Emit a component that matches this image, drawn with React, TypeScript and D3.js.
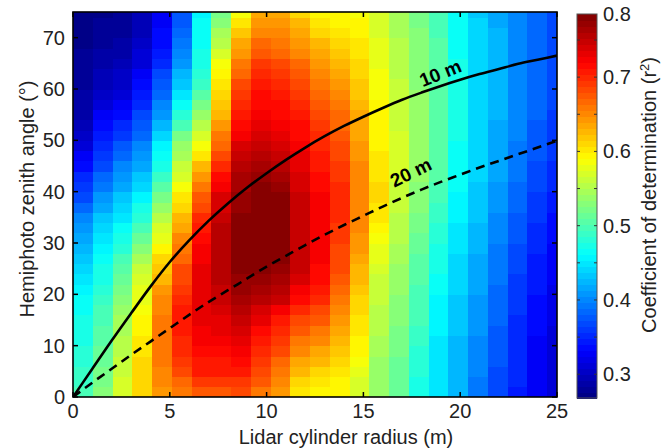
import React from "react";
import * as d3 from "d3";

// ---- Data ----
// r² per radius column (0..24), each listing angle rows of 2° from 0° to 75° (row centres 1,3,...,75)
const r2Columns: number[][] = [
  [.498,.494,.49,.486,.482,.478,.474,.47,.466,.462,.457,.451,.445,.437,.429,.42,.41,.40,.386,.372,.36,.35,.34,.328,.316,.306,.298,.29,.288,.286,.284,.282,.28,.278,.276,.274,.272,.27],
  [.528,.524,.52,.516,.512,.508,.504,.50,.496,.492,.486,.478,.47,.462,.454,.446,.438,.43,.418,.406,.394,.382,.37,.362,.354,.345,.335,.325,.315,.305,.298,.294,.29,.286,.282,.279,.277,.275],
  [.569,.567,.565,.561,.557,.553,.549,.545,.539,.533,.526,.518,.51,.498,.486,.474,.462,.45,.44,.43,.42,.41,.40,.388,.376,.364,.352,.34,.328,.316,.307,.301,.295,.291,.287,.284,.282,.28],
  [.61,.61,.61,.608,.606,.603,.599,.595,.589,.583,.576,.568,.56,.546,.532,.517,.501,.485,.471,.457,.444,.432,.42,.41,.40,.389,.377,.365,.355,.345,.335,.325,.315,.309,.303,.299,.297,.295],
  [.643,.649,.655,.657,.659,.66,.66,.66,.654,.648,.64,.63,.62,.608,.596,.583,.569,.555,.539,.523,.507,.491,.475,.465,.455,.442,.426,.41,.398,.386,.375,.365,.355,.347,.339,.334,.332,.33],
  [.657,.671,.685,.691,.697,.702,.706,.71,.706,.702,.696,.688,.68,.67,.66,.649,.637,.625,.613,.601,.588,.574,.56,.548,.536,.52,.50,.48,.464,.448,.434,.422,.41,.402,.394,.387,.381,.375],
  [.673,.689,.705,.711,.717,.722,.726,.73,.732,.734,.734,.732,.73,.726,.722,.716,.708,.70,.688,.676,.661,.643,.625,.605,.585,.567,.551,.535,.519,.503,.491,.483,.475,.471,.467,.464,.462,.46],
  [.677,.691,.705,.711,.717,.723,.729,.735,.741,.747,.751,.753,.755,.756,.756,.755,.753,.75,.744,.737,.727,.714,.70,.685,.67,.656,.643,.63,.62,.61,.601,.593,.585,.571,.557,.544,.532,.52],
  [.681,.693,.705,.713,.721,.729,.737,.745,.755,.765,.772,.775,.778,.779,.78,.78,.779,.778,.775,.772,.768,.762,.755,.746,.737,.727,.716,.705,.697,.689,.68,.67,.66,.646,.632,.617,.601,.585],
  [.661,.673,.685,.693,.701,.71,.72,.73,.744,.758,.768,.774,.78,.782,.784,.785,.785,.785,.784,.782,.779,.774,.768,.76,.751,.742,.733,.725,.719,.713,.706,.698,.69,.678,.666,.655,.645,.635],
  [.64,.65,.66,.67,.68,.69,.70,.71,.728,.746,.759,.767,.775,.777,.779,.78,.78,.78,.779,.777,.773,.765,.757,.75,.743,.736,.728,.72,.714,.708,.70,.69,.68,.67,.66,.651,.643,.635],
  [.605,.615,.625,.637,.649,.661,.673,.685,.699,.713,.726,.737,.748,.75,.751,.752,.752,.752,.749,.746,.743,.739,.735,.729,.723,.718,.714,.71,.702,.694,.685,.675,.665,.655,.645,.635,.625,.615],
  [.595,.605,.615,.627,.639,.651,.663,.675,.687,.699,.708,.714,.72,.722,.724,.725,.725,.725,.723,.721,.718,.714,.71,.706,.702,.697,.691,.685,.677,.669,.661,.653,.645,.635,.625,.615,.605,.595],
  [.593,.599,.605,.613,.621,.629,.637,.645,.653,.661,.668,.674,.68,.684,.688,.692,.696,.70,.70,.70,.698,.694,.69,.686,.682,.677,.671,.665,.657,.649,.641,.633,.625,.617,.609,.603,.599,.595],
  [.568,.574,.58,.586,.592,.597,.601,.605,.609,.613,.618,.624,.63,.635,.64,.644,.648,.652,.652,.652,.651,.65,.648,.645,.642,.639,.637,.635,.629,.623,.618,.614,.61,.606,.602,.598,.594,.59],
  [.536,.538,.54,.542,.544,.547,.551,.555,.557,.559,.562,.566,.57,.576,.582,.588,.594,.60,.604,.608,.609,.607,.605,.602,.599,.597,.596,.595,.593,.591,.588,.584,.58,.578,.576,.574,.572,.57],
  [.511,.513,.515,.517,.519,.522,.526,.53,.532,.534,.536,.538,.54,.544,.548,.552,.555,.558,.561,.564,.566,.567,.568,.568,.568,.567,.566,.565,.563,.561,.559,.557,.555,.553,.551,.549,.547,.545],
  [.476,.478,.48,.483,.486,.489,.492,.495,.497,.499,.501,.503,.505,.509,.513,.517,.521,.525,.528,.531,.534,.535,.537,.537,.538,.538,.537,.537,.536,.535,.534,.532,.53,.529,.528,.527,.526,.525],
  [.446,.447,.448,.45,.451,.453,.455,.457,.459,.461,.464,.467,.47,.474,.478,.482,.486,.49,.494,.498,.501,.503,.505,.506,.507,.508,.509,.51,.509,.508,.507,.506,.505,.504,.503,.502,.501,.50],
  [.423,.424,.425,.426,.427,.429,.431,.433,.435,.437,.439,.44,.442,.444,.447,.449,.452,.455,.458,.461,.463,.464,.466,.468,.469,.47,.471,.472,.472,.472,.472,.471,.47,.469,.468,.467,.466,.465],
  [.396,.397,.398,.40,.402,.404,.406,.408,.41,.412,.414,.416,.418,.42,.423,.425,.428,.43,.432,.435,.437,.438,.44,.441,.442,.443,.444,.445,.445,.445,.445,.444,.443,.442,.441,.439,.438,.437],
  [.371,.372,.373,.375,.376,.378,.38,.382,.384,.386,.388,.39,.392,.394,.397,.399,.402,.404,.406,.409,.411,.414,.416,.418,.419,.42,.421,.422,.422,.423,.423,.423,.423,.423,.422,.422,.421,.42],
  [.348,.349,.35,.351,.352,.354,.355,.356,.358,.359,.361,.364,.366,.369,.372,.374,.377,.38,.383,.386,.389,.392,.394,.396,.397,.399,.40,.401,.402,.403,.403,.404,.404,.404,.404,.404,.403,.403],
  [.325,.326,.327,.328,.329,.331,.333,.335,.337,.339,.341,.342,.344,.346,.349,.351,.354,.357,.36,.363,.366,.369,.372,.374,.377,.379,.38,.382,.383,.384,.385,.386,.387,.387,.388,.388,.388,.388],
  [.31,.311,.311,.312,.313,.315,.316,.318,.32,.321,.323,.325,.327,.329,.332,.334,.337,.34,.343,.346,.349,.352,.355,.357,.359,.361,.362,.364,.365,.366,.367,.368,.369,.369,.37,.37,.37,.37],
];

const curveRadius = [0,1,2,3,4,5,6,7,8,9,10,11,12,13,14,15,16,17,18,19,20,21,22,23,24,25];
const curve10m = [0,5.5,11,16.3,21.5,26.3,30.5,34.3,37.7,40.8,43.6,46.2,48.6,50.8,52.8,54.6,56.3,57.9,59.3,60.6,61.8,62.9,63.9,64.9,65.7,66.5];
const curve20m = [0,2.8,5.5,8.2,10.8,13.4,16,18.5,20.8,23.1,25.4,27.5,29.6,31.6,33.5,35.3,37.1,38.8,40.4,41.9,43.3,44.7,46.0,47.3,48.6,49.9];

const xTicks = [0, 5, 10, 15, 20, 25];
const yTicks = [0, 10, 20, 30, 40, 50, 60, 70];
const cbarLabels = [0.3, 0.4, 0.5, 0.6, 0.7, 0.8];
const cbarMinorTicks = [0.3, 0.35, 0.4, 0.45, 0.5, 0.55, 0.6, 0.65, 0.7, 0.75];
const colorLimits = [0.268, 0.785];

// ---- layout ----
const W = 672, H = 448;
const PL = 73, PR = 557, PT = 12, PB = 397;
const CBL = 577, CBR = 597, CBT = 14, CBB = 398;
const FONT = "'Liberation Sans', Arial, Helvetica, sans-serif";
const FS = 20;
const CELL_W = 25 / 24.5; // radius cell width
const CELL_H = 2; // angle row height

const N_COLORS = 64;
function jetIndexColor(idx: number): string {
  const t = (idx + 0.5) / N_COLORS;
  const c = (v: number) => Math.max(0, Math.min(1, v));
  const r = c(1.5 - Math.abs(4 * t - 3));
  const g = c(1.5 - Math.abs(4 * t - 2));
  const b = c(1.5 - Math.abs(4 * t - 1));
  return d3.rgb(r * 255, g * 255, b * 255).formatHex();
}
function jet(v: number): string {
  const t = (v - colorLimits[0]) / (colorLimits[1] - colorLimits[0]);
  const idx = Math.max(0, Math.min(N_COLORS - 1, Math.floor(t * N_COLORS)));
  return jetIndexColor(idx);
}

export default function App() {
  const x = d3.scaleLinear().domain([0, 25]).range([PL, PR]);
  const y = d3.scaleLinear().domain([0, 75]).range([PB, PT]);
  const cy = d3.scaleLinear().domain(colorLimits).range([CBB, CBT]).clamp(true);

  const cells: React.ReactNode[] = [];
  r2Columns.forEach((col, i) => {
    const x0 = i * CELL_W;
    const x1 = Math.min((i + 1) * CELL_W, 25);
    col.forEach((v, j) => {
      const a0 = j * CELL_H;
      const a1 = Math.min((j + 1) * CELL_H, 75);
      if (a0 >= 75) return;
      const px = x(x0), pw = x(x1) - x(x0);
      const py = y(a1), ph = y(a0) - y(a1);
      cells.push(
        <rect key={`c${i}-${j}`} x={px} y={py} width={pw + 0.6} height={ph + 0.6}
          fill={jet(v)} shapeRendering="crispEdges" />
      );
    });
  });

  const line = d3.line<number>()
    .x((_, i) => x(curveRadius[i]))
    .curve(d3.curveMonotoneX);
  const path10 = line.y((d) => y(d))(curve10m) || "";
  const path20 = line.y((d) => y(d))(curve20m) || "";

  const cbarBands = d3.range(N_COLORS).map((k) => {
    const v0 = colorLimits[0] + (k / N_COLORS) * (colorLimits[1] - colorLimits[0]);
    const v1 = colorLimits[0] + ((k + 1) / N_COLORS) * (colorLimits[1] - colorLimits[0]);
    return (
      <rect key={`cb${k}`} x={CBL} y={cy(v1)} width={CBR - CBL} height={cy(v0) - cy(v1) + 0.5}
        fill={jetIndexColor(k)} shapeRendering="crispEdges" />
    );
  });

  const tickLen = 5;
  const l10 = { r: 19.1, a: 61.9 };
  const l20 = { r: 17.6, a: 42.6 };
  return (
    <svg width={W} height={H} style={{ position: "absolute", left: 0, top: 0, background: "#fff" }}
      fontFamily={FONT}>
      <rect x={0} y={0} width={W} height={H} fill="#fff" />
      <clipPath id="plotClip">
        <rect x={PL} y={PT} width={PR - PL} height={PB - PT} />
      </clipPath>
      <g clipPath="url(#plotClip)">{cells}</g>

      {/* curves */}
      <g clipPath="url(#plotClip)">
        <path d={path10} fill="none" stroke="#000" strokeWidth={2.6} />
        <path d={path20} fill="none" stroke="#000" strokeWidth={2.6} strokeDasharray="9,6" />
      </g>
      <text x={x(l10.r)} y={y(l10.a)} fontSize={19} fontWeight="bold" textAnchor="middle"
        transform={`rotate(-22 ${x(l10.r)} ${y(l10.a)})`}>10 m</text>
      <text x={x(l20.r)} y={y(l20.a)} fontSize={19} fontWeight="bold" textAnchor="middle"
        transform={`rotate(-26 ${x(l20.r)} ${y(l20.a)})`}>20 m</text>

      {/* frame & ticks */}
      <rect x={PL} y={PT} width={PR - PL} height={PB - PT} fill="none" stroke="#000" strokeWidth={1.6} />
      {xTicks.map((t) => (
        <g key={`xt${t}`}>
          <line x1={x(t)} x2={x(t)} y1={PB} y2={PB - tickLen} stroke="#000" strokeWidth={1.5} />
          <line x1={x(t)} x2={x(t)} y1={PT} y2={PT + tickLen} stroke="#000" strokeWidth={1.5} />
          <text x={x(t)} y={PB + 21} fontSize={FS} textAnchor="middle" fill="#222">{t}</text>
        </g>
      ))}
      {yTicks.map((t) => (
        <g key={`yt${t}`}>
          <line x1={PL} x2={PL + tickLen} y1={y(t)} y2={y(t)} stroke="#000" strokeWidth={1.5} />
          <line x1={PR} x2={PR - tickLen} y1={y(t)} y2={y(t)} stroke="#000" strokeWidth={1.5} />
          <text x={PL - 8} y={y(t)} dy="0.35em" fontSize={FS} textAnchor="end" fill="#222">{t}</text>
        </g>
      ))}

      {/* axis titles */}
      <text x={346} y={444} fontSize={FS} textAnchor="middle" fill="#222">Lidar cylinder radius (m)</text>
      <text transform="translate(34,199) rotate(-90)" fontSize={FS} textAnchor="middle" fill="#222">
        Hemiphoto zenith angle (°)
      </text>

      {/* colorbar */}
      {cbarBands}
      <rect x={CBL} y={CBT} width={CBR - CBL} height={CBB - CBT} fill="none" stroke="#555" strokeWidth={1} />
      {cbarMinorTicks.map((t) => (
        <g key={`cbt${t}`}>
          <line x1={CBL} x2={CBL + 3} y1={cy(t)} y2={cy(t)} stroke="#333" strokeWidth={1} />
          <line x1={CBR} x2={CBR - 3} y1={cy(t)} y2={cy(t)} stroke="#333" strokeWidth={1} />
        </g>
      ))}
      {cbarLabels.map((t) => (
        <text key={`cbl${t}`} x={CBR + 6} y={cy(t)} dy="0.35em" fontSize={FS} fill="#222">
          {t.toFixed(1)}
        </text>
      ))}
      <text transform="translate(656,195) rotate(-90)" fontSize={FS} textAnchor="middle" fill="#222">
        Coefficient of determination (r<tspan dy="-7" fontSize={13}>2</tspan><tspan dy="7">)</tspan>
      </text>
    </svg>
  );
}
